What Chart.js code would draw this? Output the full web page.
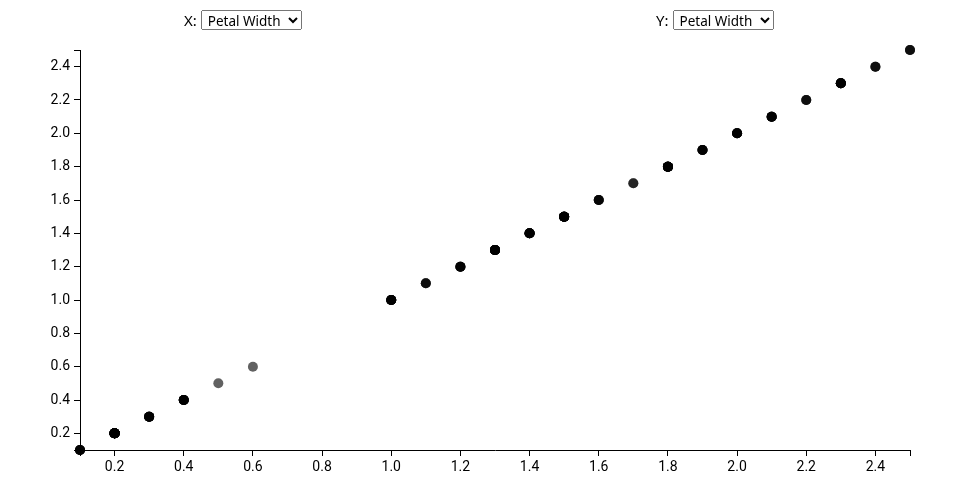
<!DOCTYPE html>
<html>
<head>
<meta charset="utf-8">
<script src="https://cdn.jsdelivr.net/npm/chart.js@4"></script>
<style>
  html, body { margin: 0; padding: 0; background: #fff; }
  body { width: 960px; height: 500px; position: relative; overflow: hidden; font-family: "Noto Sans", sans-serif; }
  #wrap { position: absolute; left: 0; top: 0; width: 960px; height: 500px; }
  .ctl { position: absolute; top: 10px; font-size: 15px; line-height: 20px; color: #000; }
  .ctl label { margin-right: 4px; }
  .ctl select { font-family: "Noto Sans", sans-serif; font-size: 13.5px; width: 101px; height: 20px; vertical-align: top; margin: 0; padding: 0 0 0 2px; }
</style>
</head>
<body>
<div id="wrap"><canvas id="c" width="960" height="500"></canvas></div>
<div class="ctl" style="left:184px;"><label>X:</label><select><option>Petal Width</option></select></div>
<div class="ctl" style="left:656px;"><label>Y:</label><select><option>Petal Width</option></select></div>
<script>
// Iris petal width (cm), X and Y both "Petal Width"
const petalWidth = [
  0.2,0.2,0.2,0.2,0.2,0.4,0.3,0.2,0.2,0.1,0.2,0.2,0.1,0.1,0.2,0.4,0.4,0.3,0.3,0.3,0.2,0.4,0.2,0.5,0.2,
  0.2,0.4,0.2,0.2,0.2,0.2,0.4,0.1,0.2,0.2,0.2,0.2,0.1,0.2,0.2,0.3,0.3,0.2,0.6,0.4,0.3,0.2,0.2,0.2,0.2,
  1.4,1.5,1.5,1.3,1.5,1.3,1.6,1.0,1.3,1.4,1.0,1.5,1.0,1.4,1.3,1.4,1.5,1.0,1.5,1.1,1.8,1.3,1.5,1.2,1.3,
  1.4,1.4,1.7,1.5,1.0,1.1,1.0,1.2,1.6,1.5,1.6,1.5,1.3,1.3,1.3,1.2,1.4,1.2,1.0,1.3,1.2,1.3,1.3,1.1,1.3,
  2.5,1.9,2.1,1.8,2.2,2.1,1.7,1.8,1.8,2.5,2.0,1.9,2.1,2.0,2.4,2.3,1.8,2.2,2.3,1.5,2.3,2.0,2.0,1.8,2.1,
  1.8,1.8,1.8,2.1,1.6,1.9,2.0,2.2,1.5,1.4,2.3,2.4,1.8,1.8,2.1,2.4,2.3,1.9,2.3,2.5,2.3,1.9,2.0,2.3,1.8
];
const xValues = petalWidth;
const yValues = petalWidth;
const xTickValues = [0.1,0.2,0.4,0.6,0.8,1.0,1.2,1.4,1.6,1.8,2.0,2.2,2.4,2.5];
const yTickValues = [0.1,0.2,0.4,0.6,0.8,1.0,1.2,1.4,1.6,1.8,2.0,2.2,2.4,2.5];
const xDomain = [0.1, 2.5];
const yDomain = [0.1, 2.5];

const points = xValues.map((x, i) => ({ x: x, y: yValues[i] }));
const tickFont = { family: "Roboto", size: 14 };
const labelFor = (ends) => function (v) {
  if (v === ends[0] || v === ends[1]) return '';
  return Number(v).toFixed(1);
};

new Chart(document.getElementById('c'), {
  type: 'scatter',
  data: {
    datasets: [{
      data: points,
      backgroundColor: 'rgba(0,0,0,0.62)',
      borderWidth: 0,
      pointRadius: 5,
      pointHoverRadius: 5,
      clip: false
    }]
  },
  options: {
    responsive: false,
    animation: false,
    events: [],
    layout: { padding: { left: 0, right: 50, top: 50, bottom: 0 } },
    plugins: { legend: { display: false }, tooltip: { enabled: false } },
    scales: {
      x: {
        type: 'linear',
        min: xDomain[0], max: xDomain[1],
        afterBuildTicks: (s) => { s.ticks = xTickValues.map(v => ({ value: v })); },
        afterFit: (s) => { s.height = 50; },
        grid: { drawOnChartArea: false, drawTicks: true, tickLength: 6, color: '#000', lineWidth: 1 },
        border: { display: true, color: '#000', width: 1 },
        ticks: { color: '#000', font: tickFont, padding: 3, maxRotation: 0, autoSkip: false, callback: labelFor(xDomain) }
      },
      y: {
        type: 'linear',
        min: yDomain[0], max: yDomain[1],
        afterBuildTicks: (s) => { s.ticks = yTickValues.map(v => ({ value: v })); },
        afterFit: (s) => { s.width = 80; },
        grid: { drawOnChartArea: false, drawTicks: true, tickLength: 6, color: '#000', lineWidth: 1 },
        border: { display: true, color: '#000', width: 1 },
        ticks: { color: '#000', font: tickFont, padding: 4, autoSkip: false, callback: labelFor(yDomain) }
      }
    }
  }
});
</script>
</body>
</html>
